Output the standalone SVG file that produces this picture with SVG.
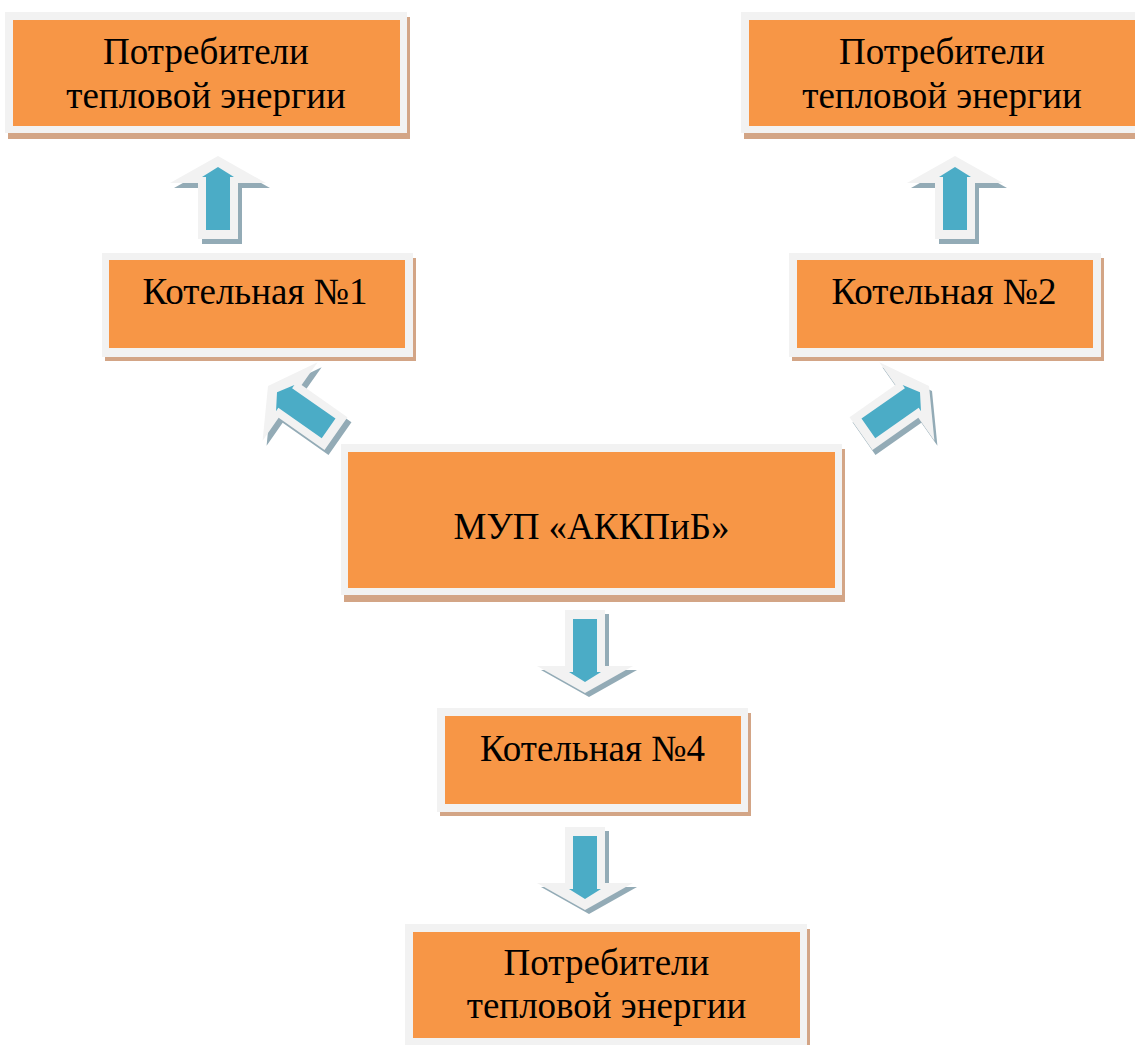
<svg xmlns="http://www.w3.org/2000/svg" xmlns:xlink="http://www.w3.org/1999/xlink" width="1135" height="1045" viewBox="0 0 1135 1045">
<style>
.sh{fill:#d3a586}
.fr{fill:#f2f2f2}
.bx{fill:#f79646}
.t{font-family:"Liberation Serif","Times New Roman",serif;font-size:37px;fill:#000;text-anchor:middle}
.ao{fill:#f2f2f2}
.as{fill:#93abb6}
.ab{fill:#4bacc6}
</style>
<defs>
<path id="aout" d="M0,0 L48,27 L20,27 L20,83 L-20,83 L-20,27 L-48,27 Z"/>
<path id="ablue" d="M0,11 L16,21 L12,21 L12,74 L-12,74 L-12,21 L-16,21 Z"/>
</defs>
<rect width="1135" height="1045" fill="#fff"/>
<g id="connectors">
<g transform="translate(218,156)"><use xlink:href="#aout" class="as" transform="translate(4,5)"/><use xlink:href="#aout" class="ao"/><use xlink:href="#ablue" class="ab"/></g>
<g transform="translate(955,156)"><use xlink:href="#aout" class="as" transform="translate(4,5)"/><use xlink:href="#aout" class="ao"/><use xlink:href="#ablue" class="ab"/></g>
<g transform="translate(268,386)"><use xlink:href="#aout" class="as" transform="translate(4,5) rotate(-55)"/><use xlink:href="#aout" class="ao" transform="rotate(-55)"/><use xlink:href="#ablue" class="ab" transform="rotate(-55)"/></g>
<g transform="translate(929,386)"><use xlink:href="#aout" class="as" transform="translate(3,5) rotate(55)"/><use xlink:href="#aout" class="ao" transform="rotate(55)"/><use xlink:href="#ablue" class="ab" transform="rotate(55)"/></g>
<g transform="translate(585,693)"><use xlink:href="#aout" class="as" transform="translate(4,4) rotate(180)"/><use xlink:href="#aout" class="ao" transform="rotate(180)"/><use xlink:href="#ablue" class="ab" transform="rotate(180)"/></g>
<g transform="translate(585,910)"><use xlink:href="#aout" class="as" transform="translate(4,4) rotate(180)"/><use xlink:href="#aout" class="ao" transform="rotate(180)"/><use xlink:href="#ablue" class="ab" transform="rotate(180)"/></g>
</g>
<g id="consumers1">
<rect class="sh" x="8" y="17" width="402" height="122"/>
<rect class="fr" x="5" y="12" width="402" height="121"/>
<rect class="bx" x="13" y="20" width="387" height="106"/>
<text class="t" x="206" y="64">Потребители</text>
<text class="t" x="206" y="108">тепловой энергии</text>
</g>
<g id="consumers2">
<rect class="sh" x="744" y="17" width="402" height="122"/>
<rect class="fr" x="741" y="12" width="402" height="121"/>
<rect class="bx" x="749" y="20" width="386" height="106"/>
<text class="t" x="942" y="64">Потребители</text>
<text class="t" x="942" y="108">тепловой энергии</text>
</g>
<g id="boiler1">
<rect class="sh" x="105" y="258" width="311" height="103"/>
<rect class="fr" x="102" y="253" width="311" height="104"/>
<rect class="bx" x="109" y="260" width="296" height="88"/>
<text class="t" x="255" y="304">Котельная №1</text>
</g>
<g id="boiler2">
<rect class="sh" x="792" y="258" width="312" height="103"/>
<rect class="fr" x="789" y="253" width="312" height="104"/>
<rect class="bx" x="797" y="260" width="296" height="88"/>
<text class="t" x="944" y="304">Котельная №2</text>
</g>
<g id="mup">
<rect class="sh" x="344" y="449" width="501" height="153"/>
<rect class="fr" x="341" y="444" width="501" height="151"/>
<rect class="bx" x="348" y="452" width="487" height="136"/>
<text class="t" x="591.5" y="539">МУП «АККПиБ»</text>
</g>
<g id="boiler4">
<rect class="sh" x="440" y="713" width="311" height="103"/>
<rect class="fr" x="437" y="708" width="311" height="104"/>
<rect class="bx" x="445" y="716" width="296" height="88"/>
<text class="t" x="592.5" y="761">Котельная №4</text>
</g>
<g id="consumers4">
<rect class="sh" x="408" y="929" width="402" height="122"/>
<rect class="fr" x="405" y="924" width="402" height="121"/>
<rect class="bx" x="413" y="932" width="387" height="106"/>
<text class="t" x="606.5" y="975">Потребители</text>
<text class="t" x="606.5" y="1018">тепловой энергии</text>
</g>
</svg>
